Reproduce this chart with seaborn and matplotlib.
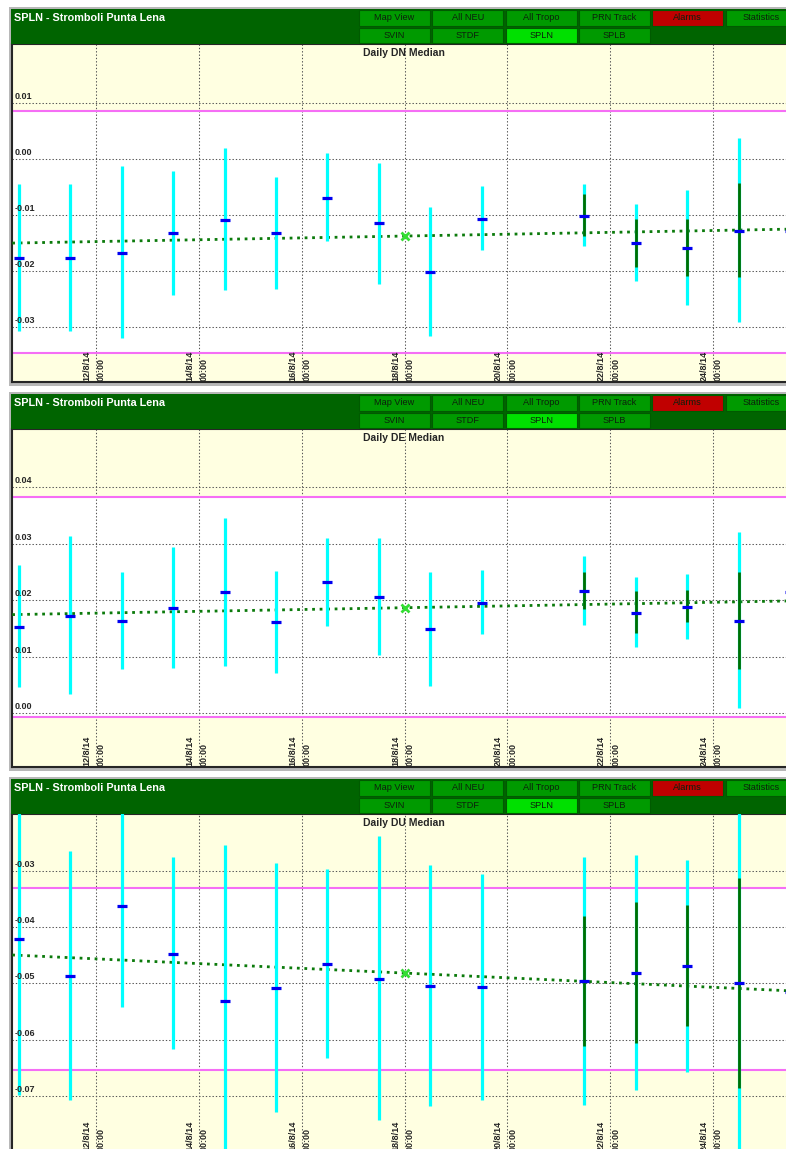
"""
Daily DN / DE / DU median panels for SPLN - Stromboli Punta Lena.
"""
import numpy as np
import matplotlib
matplotlib.use('Agg')
import matplotlib.pyplot as plt
import matplotlib.transforms as mtransforms
from matplotlib.patches import Rectangle
import seaborn as sns

###############################################################################
# data (days of August 2014, values in metres)
###############################################################################
nan = np.nan
days = [10.5, 11.5, 12.5, 13.5, 14.5, 15.5, 16.5, 17.5, 18.5, 19.5,
        21.5, 22.5, 23.5, 24.5, 25.5]

dn_med = [-0.0176, -0.0176, -0.0167, -0.0132, -0.0109, -0.0132, -0.0069, -0.0115,
          -0.0201, -0.0107, -0.0101, -0.0150, -0.0158, -0.0128, -0.0128]
dn_lo = [-0.0306, -0.0306, -0.0319, -0.0242, -0.0233, -0.0231, -0.0147, -0.0222,
         -0.0316, -0.0162, -0.0156, -0.0218, -0.0260, -0.0291, nan]
dn_hi = [-0.0045, -0.0045, -0.0013, -0.0021, 0.0019, -0.0032, 0.0010, -0.0007,
         -0.0086, -0.0049, -0.0045, -0.0080, -0.0055, 0.0037, nan]
dn_in_lo = [nan] * 10 + [-0.0138, -0.0192, -0.0208, -0.0211, nan]
dn_in_hi = [nan] * 10 + [-0.0062, -0.0108, -0.0108, -0.0043, nan]

de_med = [0.0153, 0.0173, 0.0164, 0.0186, 0.0214, 0.0162, 0.0232, 0.0206,
          0.0149, 0.0196, 0.0217, 0.0178, 0.0189, 0.0164, 0.0215]
de_lo = [0.0046, 0.0034, 0.0079, 0.0081, 0.0083, 0.0072, 0.0154, 0.0103,
         0.0049, 0.0141, 0.0157, 0.0117, 0.0132, 0.0010, nan]
de_hi = [0.0263, 0.0313, 0.0251, 0.0294, 0.0346, 0.0252, 0.0311, 0.0310,
         0.0250, 0.0253, 0.0278, 0.0241, 0.0247, 0.0321, nan]
de_in_lo = [nan] * 10 + [0.0184, 0.0142, 0.0161, 0.0079, nan]
de_in_hi = [nan] * 10 + [0.0250, 0.0216, 0.0218, 0.0251, nan]

du_med = [-0.0421, -0.0487, -0.0362, -0.0448, -0.0532, -0.0509, -0.0466, -0.0492,
          -0.0504, -0.0507, -0.0496, -0.0481, -0.0469, -0.0500, -0.0516]
du_lo = [-0.0699, -0.0708, -0.0542, -0.0617, -0.0850, -0.0729, -0.0633, -0.0743,
         -0.0718, -0.0708, -0.0716, -0.0690, -0.0657, -0.0850, nan]
du_hi = [-0.0150, -0.0264, -0.0150, -0.0275, -0.0254, -0.0287, -0.0297, -0.0239,
         -0.0290, -0.0306, -0.0275, -0.0272, -0.0280, -0.0150, nan]
du_in_lo = [nan] * 10 + [-0.0611, -0.0607, -0.0576, -0.0687, nan]
du_in_hi = [nan] * 10 + [-0.0380, -0.0355, -0.0361, -0.0313, nan]

# alarm limits (magenta) and trend line end points
dn_limits = [-0.0346, 0.0086]
de_limits = [-0.0007, 0.0382]
du_limits = [-0.0654, -0.0330]
trend_days = [10.37, 25.42]
dn_trend = [-0.0150, -0.01253]
de_trend = [0.01747, 0.01988]
du_trend = [-0.04497, -0.05131]
mark_day = 18.0

dn_ticks = [0.01, 0.00, -0.01, -0.02, -0.03]
dn_tick_labels = ['0.01', '0.00', '-0.01', '-0.02', '-0.03']
de_ticks = [0.04, 0.03, 0.02, 0.01, 0.00]
de_tick_labels = ['0.04', '0.03', '0.02', '0.01', '0.00']
du_ticks = [-0.03, -0.04, -0.05, -0.06, -0.07]
du_tick_labels = ['-0.03', '-0.04', '-0.05', '-0.06', '-0.07']

date_ticks = [12, 14, 16, 18, 20, 22, 24]
date_labels = ['12/8/14\n00:00', '14/8/14\n00:00', '16/8/14\n00:00', '18/8/14\n00:00',
               '20/8/14\n00:00', '22/8/14\n00:00', '24/8/14\n00:00']

station = 'SPLN - Stromboli Punta Lena'
buttons_top = ['Map View', 'All NEU', 'All Tropo', 'PRN Track', 'Alarms', 'Statistics']
buttons_bottom = ['SVIN', 'STDF', 'SPLN', 'SPLB']

###############################################################################
# figure
###############################################################################
sns.set_style('white')
plt.rcParams['font.family'] = ['Liberation Sans', 'DejaVu Sans']

W, H = 786, 1149
fig = plt.figure(figsize=(W / 100, H / 100), dpi=100, facecolor='white')


def fx(px):
    return px / W


def fy(py):
    return 1 - py / H


def frect(x0, y0, x1, y1, **kw):
    fig.add_artist(Rectangle((fx(x0), fy(y1)), (x1 - x0) / W, (y1 - y0) / H,
                             transform=fig.transFigure, **kw))


panels = [
    ('Daily DN Median', dn_med, dn_lo, dn_hi, dn_in_lo, dn_in_hi, dn_limits,
     dn_trend, dn_ticks, dn_tick_labels, (-0.03973, 0.02044)),
    ('Daily DE Median', de_med, de_lo, de_hi, de_in_lo, de_in_hi, de_limits,
     de_trend, de_ticks, de_tick_labels, (-0.0095, 0.05032)),
    ('Daily DU Median', du_med, du_lo, du_hi, du_in_lo, du_in_hi, du_limits,
     du_trend, du_ticks, du_tick_labels, (-0.0800, -0.0199)),
]
offsets = [0, 385, 770]

for off, (title, med, lo, hi, in_lo, in_hi, lims, trend, yt, ytl, ylim) in zip(offsets, panels):
    # window frame and header
    frect(9, off + 7, W, off + 386, facecolor='#B8B8B8', edgecolor='none', zorder=0)
    frect(11, off + 9, W, off + 44, facecolor='#006400', edgecolor='none', zorder=1)
    fig.text(fx(14), fy(off + 18), station, color='white', fontsize=7.8,
             weight='bold', va='center', ha='left', zorder=3)
    for i, name in enumerate(buttons_top):
        x0 = 359 + i * 73.3
        fc = '#C00000' if name == 'Alarms' else '#009A00'
        frect(x0, off + 10, x0 + 71, off + 26, facecolor=fc, edgecolor='#005A00',
              linewidth=0.8, zorder=2)
        fig.text(fx(x0 + 35.5), fy(off + 18), name, color='#0C200C', fontsize=6.6,
                 va='center', ha='center', zorder=3)
    for i, name in enumerate(buttons_bottom):
        x0 = 359 + i * 73.3
        fc = '#00E000' if name == 'SPLN' else '#009A00'
        frect(x0, off + 28, x0 + 71, off + 43, facecolor=fc, edgecolor='#005A00',
              linewidth=0.8, zorder=2)
        fig.text(fx(x0 + 35.5), fy(off + 35.5), name, color='#0C200C', fontsize=6.6,
                 va='center', ha='center', zorder=3)

    # plot area
    ax = fig.add_axes([fx(12), fy(off + 382), 1 - fx(12), 338 / H])
    ax.set_facecolor('#FFFFE1')
    ax.set_xlim(trend_days[0] - 0.004, 25.42)
    ax.set_ylim(*ylim)
    ax.set_xticks(date_ticks)
    ax.set_yticks(yt)
    ax.set_axisbelow(True)
    ax.grid(True, color='#555555', linestyle=(0, (1.3, 1.9)), linewidth=0.75)
    ax.tick_params(length=0, labelbottom=False, labelleft=False)
    for side in ['left', 'bottom', 'top']:
        ax.spines[side].set_color('#262626')
        ax.spines[side].set_linewidth(1.5)
    ax.spines['right'].set_visible(False)

    ax.axhspan(lims[0], lims[1], color='white', zorder=0.3)
    for v in lims:
        ax.axhline(v, color='#F56EF5', linewidth=1.5, zorder=2)

    sns.lineplot(x=trend_days, y=trend, ax=ax, color='#0B7A0B', linewidth=2.0,
                 linestyle=(0, (1, 1.7)), zorder=3)
    ax.vlines(days, lo, hi, color='#00FFFF', linewidth=2.3, zorder=4)
    ax.vlines(days, in_lo, in_hi, color='#006E00', linewidth=2.0, zorder=5)
    ax.plot(days, med, linestyle='none', marker='_', markersize=7.5,
            markeredgewidth=2.3, color='#0000F0', zorder=6)
    ax.plot([mark_day], [np.interp(mark_day, trend_days, trend)], linestyle='none',
            marker='x', markersize=6, markeredgewidth=2, color='#33DD33', zorder=7)

    fig.text(fx(404), fy(off + 53), title, fontsize=7.5, weight='bold',
             ha='center', va='center', zorder=3)

    ytrans = mtransforms.offset_copy(
        mtransforms.blended_transform_factory(ax.transAxes, ax.transData),
        fig=fig, x=2.5, y=2, units='dots')
    for v, lab in zip(yt, ytl):
        ax.text(0.0, v, lab, transform=ytrans, fontsize=6.5, weight='bold',
                ha='left', va='bottom', zorder=8)

    xtrans = mtransforms.blended_transform_factory(ax.transData, ax.transAxes)
    for d, lab in zip(date_ticks, date_labels):
        ax.text(d - 0.03, 0.004, lab, transform=xtrans, rotation=90, fontsize=6.5,
                weight='bold', ha='center', va='bottom', multialignment='left',
                linespacing=1.75, zorder=8)

fig.savefig('out.png', dpi=100, facecolor=fig.get_facecolor())
